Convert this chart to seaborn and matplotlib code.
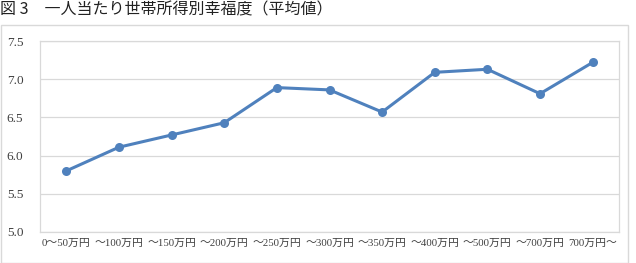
import matplotlib
matplotlib.use("Agg")
import matplotlib.pyplot as plt
import seaborn as sns
import pandas as pd
from matplotlib.patches import Rectangle

categories = ["0～50万円", "～100万円", "～150万円", "～200万円", "～250万円", "～300万円",
              "～350万円", "～400万円", "～500万円", "～700万円", "700万円～"]
values = [5.80, 6.11, 6.27, 6.43, 6.89, 6.86, 6.57, 7.09, 7.13, 6.81, 7.22]
yticks = [5.0, 5.5, 6.0, 6.5, 7.0, 7.5]
title = "図 3　一人当たり世帯所得別幸福度（平均値）"

sns.set_theme(style="white")
fam = ["Liberation Serif", "Noto Sans CJK JP", "DejaVu Sans"]
plt.rcParams["font.family"] = fam

df = pd.DataFrame({"cat": categories, "val": values})

fig = plt.figure(figsize=(6.36, 2.63), dpi=100)
ax = fig.add_axes([40/636, 31/263, 579/636, 191/263])

fig.patches.append(Rectangle((0.002, 0.0), 628/636 - 0.002, (263-25)/263,
                             transform=fig.transFigure, fill=False,
                             edgecolor="#d9d9d9", linewidth=1.0))

sns.lineplot(data=df, x="cat", y="val", ax=ax, sort=False, color="#4f81bd",
             linewidth=2.2, marker="o", markersize=6.5, markeredgewidth=0)

ax.set_xlim(-0.5, len(categories) - 0.5)
ax.set_ylim(5.0, 7.5)
ax.set_yticks(yticks)
ax.set_yticklabels([f"{v:.1f}" for v in yticks], fontsize=9.5, color="#404040")
ax.set_xticks(range(len(categories)))
ax.set_xticklabels(categories, fontsize=7.8, color="#404040")
ax.tick_params(axis="both", length=0, pad=5)
ax.tick_params(axis="y", pad=12)
ax.set_xlabel("")
ax.set_ylabel("")
ax.grid(axis="y", color="#d9d9d9", linewidth=0.9)
for s in ax.spines.values():
    s.set_color("#d9d9d9")
    s.set_linewidth(0.9)

fig.text(0.0, 1 - 10/263, title, fontsize=11.5, va="center", ha="left", color="#222222",
         family=["Noto Sans CJK JP", "DejaVu Sans"])

fig.savefig("out.png", dpi=100)
